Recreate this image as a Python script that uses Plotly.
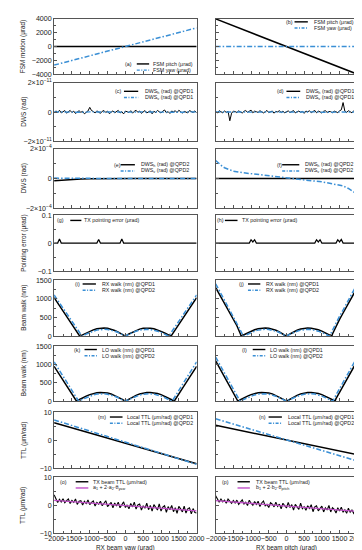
import plotly.graph_objects as go

W, H = 362, 550

# ---------------- data ----------------
x_line = [-2000, 2000]
a_pitch = [0, 0]
a_yaw = [-2700, 2700]
b_pitch = [4000, -4000]
b_yaw = [0, 0]

x_n = list(range(-2000, 2001, 50))
# DWS @QPD1 in units of 1e-12 rad
c_h = [-0.5, 0.8, -0.3, 1.2, -0.6, 0.4, 1.0, -0.8, 0.2, 1.1,
       -0.4, 0.6, -1.0, 0.3, 0.9, -0.2, 0.5, -1.2, 0.1, 0.7,
       3.2, 1.0, 0.4, -0.6, 0.8, 0.2, -0.9, 0.5, 1.0, -0.3,
       0.6, -1.1, 0.2, 0.8, -0.5, 0.4, 1.1, -0.7, 0.3, -1.3,
       0.6, 0.2, -0.4, 0.9, -0.8, 0.5, 1.2, -0.2, 0.7, -0.9,
       0.3, 1.0, -0.6, 0.4, 0.8, -1.2, 0.5, -0.3, 1.1, 0.2,
       -0.7, 0.6, 1.4, -0.5, 0.3, -1.0, 0.7, 0.1, 0.9, -0.4,
       1.2, 0.3, -0.8, 0.5, 0.2, -0.6, 1.0, 0.4, -0.3, 0.8, -0.5]
x_v = list(range(-2000, 2001, 200))
c_v = [0.1, -0.1, 0.2, 0.0, -0.2, 0.1, 0.0, -0.1, 0.2, 0.1, 0.0,
       -0.1, 0.1, 0.0, 0.2, -0.1, 0.0, 0.1, -0.2, 0.1, 0.0]
d_h = [0.4, -0.6, 0.9, 0.2, -0.5, 0.7, -0.3, 0.5, -6.0, -0.8,
       0.6, 0.3, -0.4, 0.8, 0.1, -0.7, 0.5, 1.0, -0.2, 0.4,
       1.3, -0.5, 0.6, 0.2, -0.3, 0.9, 0.4, -0.6, 0.2, 1.1,
       -0.4, 0.3, 0.7, -0.8, 0.5, 0.1, 0.9, -0.3, 0.6, -0.5,
       0.2, 0.8, -0.4, 0.5, 1.0, -0.6, 0.3, 0.7, -0.2, 0.4,
       -0.9, 0.6, 0.2, 0.8, -0.4, 0.3, 1.1, -0.5, 0.6, 0.1,
       -0.7, 0.5, 0.9, -0.3, 0.4, 0.2, -0.6, 0.7, 0.3, -0.4,
       0.8, 1.5, 6.5, 0.6, -0.3, 0.9, 0.2, -0.5, 0.7, 0.1, -0.2]
d_v = [0.0, 0.1, -0.1, 0.2, 0.0, -0.1, 0.1, 0.0, 0.1, -0.1, 0.0,
       0.2, -0.1, 0.0, 0.1, -0.2, 0.0, 0.1, 0.0, -0.1, 0.1]

# DWS @QPD2 in units of 1e-5 rad
x_e = [-2000, -1750, -1500, -1250, -1000, -750, -500, -250, 0,
       250, 500, 750, 1000, 1250, 1500, 1750, 2000]
e_h = [-1.5, -1.0, -0.6, -0.3, -0.1, 0, 0, 0, 0, 0, 0, 0, 0, 0, 0, 0, 0]
e_v = [0.3, 0.2, 0.2, 0.1, 0.1, 0, 0, 0, 0, 0, 0, 0, 0, 0, 0, 0, 0]
f_h = [0, 0, 0, 0, 0, 0, 0, 0, 0, 0, 0, 0, 0, 0, 0, 0, 0]
x_f = [-2000, -1900, -1800, -1750, -1600, -1500, -1250, -1000, -750, -500,
       -250, 0, 250, 500, 750, 1000, 1250, 1500, 1600, 1750, 1800, 1900, 2000]
f_v = [12.2, 9.8, 8.0, 7.3, 5.7, 5.0, 4.0, 3.3, 2.4, 1.5,
       0.8, 0.0, -0.5, -1.1, -1.6, -2.2, -3.2, -4.4, -5.0, -6.7, -7.4, -9.0, -11.0]

# pointing error (urad)
x_g = [-2000, -1900, -1850, -1800, -800, -750, -700, -150, -100, -50, 2000]
g_err = [0, 0, 0.015, 0, 0, 0.013, 0, 0, 0.015, 0, 0]
x_h = [-2000, -1050, -1000, -950, -900, -850, 800, 850, 900, 950, 1000,
       1400, 1450, 1500, 1550, 1600, 2000]
h_err = [0, 0, 0.012, 0.004, 0.012, 0, 0, 0.012, 0.004, 0.012, 0,
         0, 0.012, 0.004, 0.013, 0, 0]

# beam walk (nm)
x_i1 = [-2000, -1900, -1800, -1700, -1600, -1500, -1400, -1300, -1280,
        -1200, -1100, -1000, -900, -800, -700, -600, -500, -400, -300, -200, -100,
        0, 100, 200, 300, 400, 500, 600, 700, 800, 900, 1000, 1100, 1200,
        1280, 1300, 1400, 1500, 1600, 1700, 1800, 1900, 2000]
i_q1 = [1030, 890, 750, 610, 470, 320, 170, 30, 0,
        35, 85, 130, 170, 200, 215, 218, 210, 190, 155, 110, 60,
        0, 60, 110, 155, 190, 210, 218, 215, 200, 170, 130, 85, 35,
        0, 30, 170, 320, 470, 610, 750, 890, 1030]
x_i2 = [-2000, -1900, -1800, -1700, -1600, -1500, -1400, -1300, -1220,
        -1100, -1000, -900, -800, -700, -600, -500, -400, -300, -200, -100,
        0, 100, 200, 300, 400, 500, 600, 700, 800, 900, 1000, 1100,
        1220, 1300, 1400, 1500, 1600, 1700, 1800, 1900, 2000]
i_q2 = [1100, 965, 830, 690, 550, 400, 260, 120, 0,
        55, 100, 135, 163, 180, 185, 180, 163, 135, 100, 55,
        0, 55, 100, 135, 163, 180, 185, 180, 163, 135, 100, 55,
        0, 120, 260, 400, 550, 690, 830, 965, 1100]
j_q1 = [1300, 1130, 960, 790, 620, 450, 280, 60, 0,
        40, 90, 135, 172, 200, 215, 218, 212, 192, 158, 112, 60,
        0, 60, 112, 158, 192, 212, 218, 215, 200, 172, 135, 90, 40,
        0, 60, 280, 450, 620, 790, 960, 1130, 1300]
j_q2 = [1400, 1225, 1050, 875, 700, 530, 360, 160, 0,
        55, 100, 135, 163, 180, 185, 180, 163, 135, 100, 55,
        0, 55, 100, 135, 163, 180, 185, 180, 163, 135, 100, 55,
        0, 160, 360, 530, 700, 875, 1050, 1225, 1400]
x_k1 = [-2000, -1900, -1800, -1700, -1600, -1500, -1400, -1370,
        -1300, -1200, -1100, -1000, -900, -800, -700, -600, -500, -400, -300, -200, -100,
        0, 100, 200, 300, 400, 500, 600, 700, 800, 900, 1000, 1100, 1200, 1300,
        1370, 1400, 1500, 1600, 1700, 1800, 1900, 2000]
k_q1 = [950, 800, 650, 500, 350, 200, 50, 0,
        40, 95, 140, 180, 210, 232, 240, 238, 225, 200, 160, 115, 60,
        0, 60, 115, 160, 200, 225, 238, 240, 232, 210, 180, 140, 95, 40,
        0, 50, 200, 350, 500, 650, 800, 950]
x_k2 = [-2000, -1900, -1800, -1700, -1600, -1500, -1400, -1310,
        -1300, -1200, -1100, -1000, -900, -800, -700, -600, -500, -400, -300, -200, -100,
        0, 100, 200, 300, 400, 500, 600, 700, 800, 900, 1000, 1100, 1200, 1300,
        1310, 1400, 1500, 1600, 1700, 1800, 1900, 2000]
k_q2 = [1070, 915, 760, 600, 440, 290, 140, 0,
        8, 55, 100, 140, 172, 195, 205, 204, 192, 168, 135, 95, 50,
        0, 50, 95, 135, 168, 192, 204, 205, 195, 172, 140, 100, 55, 8,
        0, 140, 290, 440, 600, 760, 915, 1070]
l_q1 = [1100, 925, 750, 580, 410, 240, 70, 0,
        40, 95, 140, 180, 210, 232, 240, 238, 225, 200, 160, 115, 60,
        0, 60, 115, 160, 200, 225, 238, 240, 232, 210, 180, 140, 95, 40,
        0, 70, 240, 410, 580, 750, 925, 1100]
l_q2 = [1200, 1030, 860, 690, 520, 350, 170, 0,
        8, 55, 100, 140, 172, 195, 205, 204, 192, 168, 135, 95, 50,
        0, 50, 95, 135, 168, 192, 204, 205, 195, 172, 140, 100, 55, 8,
        0, 170, 350, 520, 690, 860, 1030, 1200]

# local TTL (um/rad)
m_q1 = [6.2, -8.4]
m_q2 = [7.2, -8.6]
n_q1 = [5.3, -5.2]
n_q2 = [7.6, -7.4]

# TX beam TTL (um/rad)
o_ttl = [3.7, 2.0, 1.0, 2.1, 1.2, 2.3, 0.9, 1.6, 2.2, 0.6,
         1.7, 1.0, 2.2, 0.3, 1.4, 1.6, 0.1, 1.4, 0.6, 1.9,
         0.2, 1.0, 1.5, -0.3, 1.0, 0.4, 1.4, -0.2, 0.9, 1.6,
         -0.5, 0.4, 1.0, -0.9, 0.8, -0.3, 1.1, -0.9, 0.3, 1.2,
         -0.8, 0.1, -1.3, 0.6, -0.6, 1.1, -1.4, 0.1, 0.4, -1.7,
         -0.2, -1.1, 0.7, -1.6, -0.1, -2.1, 0.2, -0.7, -1.7, 0.5,
         -2.1, -0.7, -0.2, -2.5, -0.5, -1.6, -0.1, -2.3, -0.9, -2.9,
         -0.4, -1.3, -2.4, -0.3, -2.8, -1.3, -0.9, -3.1, -1.2, -2.6, -2.8]
o_fit = [1.7, -2.0]
p_ttl = [3.4, 2.1, 1.1, 2.2, 1.2, 1.8, 0.7, 2.2, 1.3, 0.7,
         1.7, 0.8, 1.8, 0.3, 1.1, 1.9, 0.4, 1.1, -0.1, 1.8,
         0.7, 0.0, 1.3, 0.3, 1.4, -0.5, 0.8, 1.5, -0.2, 0.3,
         -0.8, 0.9, 0.4, -0.6, 1.1, -0.4, 0.4, -1.3, 0.7, -0.1,
         -1.0, 1.0, -0.8, 0.2, -1.7, 0.3, -0.5, -1.5, 0.7, -1.2,
         -0.5, -1.8, -0.2, -1.1, 0.2, -2.3, -0.6, -0.2, -2.0, -1.0,
         -0.3, -2.4, -0.9, -1.7, -0.1, -2.4, -0.9, -1.5, -2.8, -0.9,
         -2.1, -0.7, -2.5, -1.6, -2.9, -1.1, -2.5, -1.7, -2.9, -2.0, -3.7]
p_fit = [1.6, -2.2]

x_ticks = [-2000, -1500, -1000, -500, 0, 500, 1000, 1500, 2000]
x_ticktext = ["\u22122000", "\u22121500", "\u22121000", "\u2212500", "0", "500", "1000", "1500", "2000"]

# ---------------- styling ----------------
BLACK = "#000000"
BLUE = "#3a8fd5"
MAG = "#c050c8"
DASH = "5px,2px,1.5px,2px"
FONT = "Liberation Sans, Arial, Helvetica, sans-serif"
TICK_FS = 7.1
TITLE_FS = 6.4
LEG_FS = 5.3
TXT = "#222222"

col_px = [(38, 188), (208, 357)]
row_px = [(7, 63), (72, 131), (139, 199), (206, 263), (272, 329), (339, 395), (406, 463), (472, 529)]

fig = go.Figure()


def axn(r, c):
    return r * 2 + c + 1


def add(r, c, x, y, color, dash=None, width=1.2, scale=1.0):
    n = axn(r, c)
    fig.add_trace(go.Scatter(
        x=x, y=[v * scale for v in y], mode="lines",
        line=dict(color=color, width=width, dash=dash),
        xaxis="x" if n == 1 else f"x{n}", yaxis="y" if n == 1 else f"y{n}",
        showlegend=False, hoverinfo="skip"))


# (a),(b)
add(0, 0, x_line, a_pitch, BLACK, width=1.5)
add(0, 0, x_line, a_yaw, BLUE, DASH, 1.5)
add(0, 1, x_line, b_pitch, BLACK, width=1.5)
add(0, 1, x_line, b_yaw, BLUE, DASH, 1.5)
# (c),(d)
add(1, 0, x_n, c_h, BLACK, width=1.0, scale=1e-12)
add(1, 0, x_v, c_v, BLUE, DASH, 1.4, scale=1e-12)
add(1, 1, x_n, d_h, BLACK, width=1.0, scale=1e-12)
add(1, 1, x_v, d_v, BLUE, DASH, 1.4, scale=1e-12)
# (e),(f)
add(2, 0, x_e, e_h, BLACK, width=1.5, scale=1e-5)
add(2, 0, x_e, e_v, BLUE, DASH, 1.5, scale=1e-5)
add(2, 1, x_e, f_h, BLACK, width=1.5, scale=1e-5)
add(2, 1, x_f, f_v, BLUE, DASH, 1.5, scale=1e-5)
# (g),(h)
add(3, 0, x_g, g_err, BLACK, width=1.2)
add(3, 1, x_h, h_err, BLACK, width=1.2)
# (i),(j)
add(4, 0, x_i1, i_q1, BLACK, width=1.5)
add(4, 0, x_i2, i_q2, BLUE, DASH, 1.5)
add(4, 1, x_i1, j_q1, BLACK, width=1.5)
add(4, 1, x_i2, j_q2, BLUE, DASH, 1.5)
# (k),(l)
add(5, 0, x_k1, k_q1, BLACK, width=1.5)
add(5, 0, x_k2, k_q2, BLUE, DASH, 1.5)
add(5, 1, x_k1, l_q1, BLACK, width=1.5)
add(5, 1, x_k2, l_q2, BLUE, DASH, 1.5)
# (m),(n)
add(6, 0, x_line, m_q1, BLACK, width=1.5)
add(6, 0, x_line, m_q2, BLUE, DASH, 1.5)
add(6, 1, x_line, n_q1, BLACK, width=1.5)
add(6, 1, x_line, n_q2, BLUE, DASH, 1.5)
# (o),(p)
add(7, 0, x_n, o_ttl, BLACK, width=1.1)
add(7, 0, x_line, o_fit, MAG, width=1.3)
add(7, 1, x_n, p_ttl, BLACK, width=1.1)
add(7, 1, x_line, p_fit, MAG, width=1.3)

y_cfg = [
    dict(range=[-4000, 4000], tickvals=[-4000, -2000, 0, 2000, 4000],
         ticktext=["\u22124000", "\u22122000", "0", "2000", "4000"], minor=1000),
    dict(range=[-2e-11, 2e-11], tickvals=[-2e-11, 0, 2e-11],
         ticktext=["\u22122\u00d710<sup>\u221211</sup>", "0", "2\u00d710<sup>\u221211</sup>"], minor=1e-11),
    dict(range=[-2e-4, 2e-4], tickvals=[-2e-4, 0, 2e-4],
         ticktext=["\u22122\u00d710<sup>\u22124</sup>", "0", "2\u00d710<sup>\u22124</sup>"], minor=1e-4),
    dict(range=[-0.1, 0.1], tickvals=[-0.1, 0, 0.1],
         ticktext=["\u22120.1", "0", "0.1"], minor=0.05),
    dict(range=[0, 1500], tickvals=[0, 500, 1000, 1500],
         ticktext=["0", "500", "1000", "1500"], minor=250),
    dict(range=[0, 1500], tickvals=[0, 500, 1000, 1500],
         ticktext=["0", "500", "1000", "1500"], minor=250),
    dict(range=[-10, 10], tickvals=[-10, 0, 10],
         ticktext=["\u221210", "0", "10"], minor=5),
    dict(range=[-10, 10], tickvals=[-10, 0, 10],
         ticktext=["\u221210", "0", "10"], minor=5),
]

layout = dict(
    width=W, height=H, margin=dict(l=0, r=0, t=0, b=0),
    paper_bgcolor="white", plot_bgcolor="white",
    font=dict(family=FONT, size=TICK_FS, color=TXT),
    showlegend=False,
)
AX = dict(showline=True, mirror=True, linecolor="#555555", linewidth=1,
          showgrid=False, zeroline=False, ticks="inside", ticklen=3,
          tickwidth=0.8, tickcolor="#555555", tickfont=dict(size=TICK_FS, family=FONT, color=TXT))

for r in range(8):
    for c in range(2):
        n = axn(r, c)
        sfx = "" if n == 1 else str(n)
        x0, x1 = col_px[c]
        y0, y1 = row_px[r]
        cfg = y_cfg[r]
        layout["xaxis" + sfx] = dict(
            AX, domain=[x0 / W, x1 / W], anchor="y" + sfx, range=[-2000, 2000],
            tickmode="array", tickvals=x_ticks, ticktext=x_ticktext, tickangle=0,
            showticklabels=(r == 7), ticklabelstandoff=-2,
            minor=dict(ticks="inside", ticklen=2, tick0=0, dtick=250, tickcolor="#555555", tickwidth=0.6))
        layout["yaxis" + sfx] = dict(
            AX, domain=[1 - y1 / H, 1 - y0 / H], anchor="x" + sfx, range=cfg["range"],
            tickmode="array", tickvals=cfg["tickvals"], ticktext=cfg["ticktext"], tickangle=0,
            showticklabels=(c == 0),
            minor=dict(ticks="inside", ticklen=2, tick0=0, dtick=cfg["minor"], tickcolor="#555555", tickwidth=0.6))

fig.update_layout(**layout)

ann = []
shapes = []


def px(x, y):
    return x / W, 1 - y / H


# y axis titles
y_titles = ["FSM motion (\u03bcrad)", "DWS (rad)", "DWS (rad)", "Pointing error (\u03bcrad)",
            "Beam walk (nm)", "Beam walk (nm)", "TTL (\u03bcm/rad)", "TTL (\u03bcm/rad)"]
for r, t in enumerate(y_titles):
    y0, y1 = row_px[r]
    xx, yy = px(6, (y0 + y1) / 2)
    ann.append(dict(text=t, x=xx, y=yy, xref="paper", yref="paper", textangle=-90,
                    showarrow=False, xanchor="center", yanchor="middle",
                    font=dict(size=TITLE_FS, family=FONT, color=TXT)))
for c, t in enumerate(["RX beam yaw (\u03bcrad)", "RX beam pitch (\u03bcrad)"]):
    xx, yy = px((col_px[c][0] + col_px[c][1]) / 2, 544)
    ann.append(dict(text=t, x=xx, y=yy, xref="paper", yref="paper", showarrow=False,
                    xanchor="center", yanchor="middle", font=dict(size=TITLE_FS, family=FONT, color=TXT)))

# legend boxes: letter x, line start, line end, text x, first row y
legends = [
    ("(a)", 112, 125, 138, 141.5, 52.7, [("FSM pitch (\u03bcrad)", BLACK, None), ("FSM yaw (\u03bcrad)", BLUE, DASH)]),
    ("(b)", 281, 291, 305, 310, 10, [("FSM pitch (\u03bcrad)", BLACK, None), ("FSM yaw (\u03bcrad)", BLUE, DASH)]),
    ("(c)", 101.5, 111.5, 126.5, 132.5, 80.5, [("DWS<sub>h</sub> (rad) @QPD1", BLACK, None), ("DWS<sub>v</sub> (rad) @QPD1", BLUE, DASH)]),
    ("(d)", 271.5, 282.5, 297, 301.5, 80.5, [("DWS<sub>h</sub> (rad) @QPD1", BLACK, None), ("DWS<sub>v</sub> (rad) @QPD1", BLUE, DASH)]),
    ("(e)", 100, 108, 123, 128.3, 155, [("DWS<sub>h</sub> (rad) @QPD2", BLACK, None), ("DWS<sub>v</sub> (rad) @QPD2", BLUE, DASH)]),
    ("(f)", 271, 278, 296, 301, 155, [("DWS<sub>h</sub> (rad) @QPD2", BLACK, None), ("DWS<sub>v</sub> (rad) @QPD2", BLUE, DASH)]),
    ("(g)", 39.5, 55, 66.7, 68.5, 211.5, [("TX pointing error (\u03bcrad)", BLACK, None)]),
    ("(h)", 208.5, 217.7, 231, 234.3, 211.5, [("TX pointing error (\u03bcrad)", BLACK, None)]),
    ("(i)", 59.3, 68, 82, 87, 276, [("RX walk (nm) @QPD1", BLACK, None), ("RX walk (nm) @QPD2", BLUE, DASH)]),
    ("(j)", 231, 242, 255, 260.3, 276, [("RX walk (nm) @QPD1", BLACK, None), ("RX walk (nm) @QPD2", BLUE, DASH)]),
    ("(k)", 58.3, 70, 83, 87.3, 342.5, [("LO walk (nm) @QPD1", BLACK, None), ("LO walk (nm) @QPD2", BLUE, DASH)]),
    ("(l)", 235, 247, 260.3, 264.3, 342.5, [("LO walk (nm) @QPD1", BLACK, None), ("LO walk (nm) @QPD2", BLUE, DASH)]),
    ("(m)", 82.7, 96.7, 110, 114, 411, [("Local TTL (\u03bcm/rad) @QPD1", BLACK, None), ("Local TTL (\u03bcm/rad) @QPD2", BLUE, DASH)]),
    ("(n)", 252.7, 263.7, 277.7, 282.7, 411, [("Local TTL (\u03bcm/rad) @QPD1", BLACK, None), ("Local TTL (\u03bcm/rad) @QPD2", BLUE, DASH)]),
    ("(o)", 43.3, 60.7, 74, 78.3, 476.7, [("TX beam TTL (\u03bcm/rad)", BLACK, None),
                                         ("a<sub>1</sub> + 2\u00b7a<sub>2</sub>\u00b7\u03b8<sub>yaw</sub>", MAG, None)]),
    ("(p)", 213.7, 231, 244, 249, 476.7, [("TX beam TTL (\u03bcm/rad)", BLACK, None),
                                         ("b<sub>1</sub> + 2\u00b7b<sub>2</sub>\u00b7\u03b8<sub>pitch</sub>", MAG, None)]),
]
LS = 6.3  # legend row spacing
for letter, L, l0, l1, tx0, y1, entries in legends:
    xx, yy = px(L, y1)
    ann.append(dict(text=letter, x=xx, y=yy, xref="paper", yref="paper", showarrow=False,
                    xanchor="left", yanchor="middle", borderpad=0,
                    font=dict(size=LEG_FS, family=FONT, color=TXT)))
    for k, (t, col, dash) in enumerate(entries):
        yk = y1 + k * LS
        lx0, ly = px(l0, yk)
        lx1, _ = px(l1, yk)
        shapes.append(dict(type="line", xref="paper", yref="paper", x0=lx0, x1=lx1, y0=ly, y1=ly,
                           line=dict(color=col, width=1.4, dash=("3px,1.5px,1px,1.5px" if dash else None))))
        tx, ty = px(tx0, yk)
        ann.append(dict(text=t, x=tx, y=ty, xref="paper", yref="paper", showarrow=False,
                        xanchor="left", yanchor="middle", borderpad=0,
                        font=dict(size=LEG_FS, family=FONT, color=TXT)))

fig.update_layout(annotations=ann, shapes=shapes)
fig.write_html("out.html")
